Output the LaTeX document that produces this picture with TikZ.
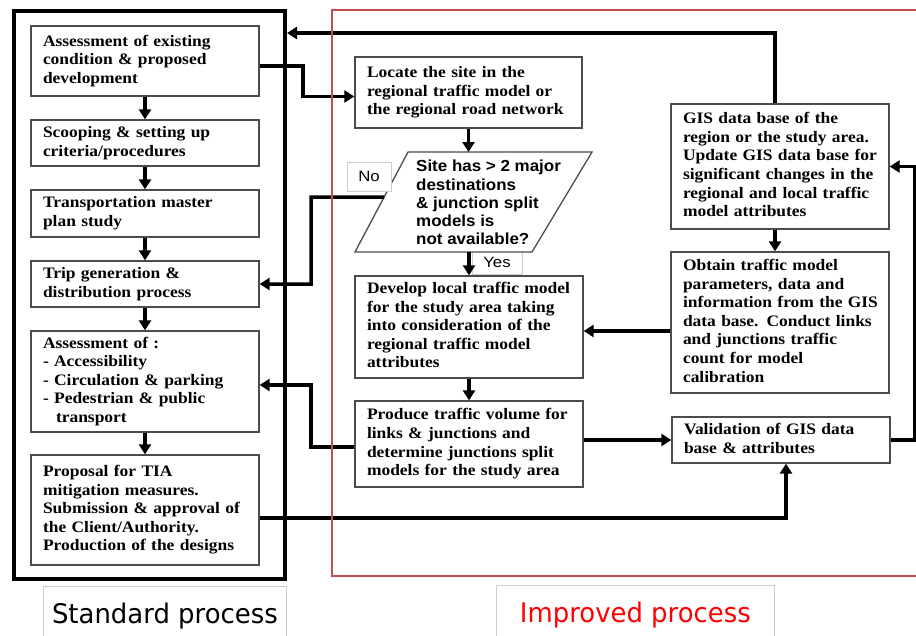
\documentclass[tikz,border=0pt]{standalone}
\usepackage{fontspec}
\setmainfont{Liberation Serif}
\newfontfamily\boxfont{Liberation Serif}[FakeStretch=1.09]
\newfontfamily\qfont{Liberation Sans}[FakeStretch=1.06]
\newfontfamily\yfont{Liberation Sans}[FakeStretch=1.12]
\newfontfamily\lfont{DejaVu Sans}[FakeStretch=0.96]
\usetikzlibrary{arrows.meta,calc}
\newcommand\boxlines[1]{\begin{tabular}{@{}l@{}}#1\end{tabular}}
\definecolor{impframe}{RGB}{192,80,77}
\begin{document}
\begin{tikzpicture}[x=1pt,y=-1pt,
  box/.style={draw=black!70, line width=1.3pt, fill=white, inner xsep=12pt, inner ysep=0pt,
    align=left, font=\boxfont\bfseries\fontsize{16}{18.6}\selectfont},
  conn/.style={line width=3.5pt, -{Triangle[length=10pt,width=12pt]}},
  lbl/.style={draw=black!20, line width=0.8pt, inner sep=0pt, anchor=north west,
    font=\lfont\fontsize{27}{32}\selectfont},
  tag/.style={draw=black!20, line width=0.8pt, inner sep=0pt, fill=white,
    font=\yfont\fontsize{15}{18}\selectfont}]
\useasboundingbox (0,0) rectangle (916,635);

% standard process frame
\node[draw, line width=4pt, minimum width=271.3pt, minimum height=568.3pt, inner sep=0pt] (std) at (149.35,294.85) {};

% left column
\node[box, minimum width=228pt, text width=204pt, minimum height=70pt] (b1) at (145,61)
  {\boxlines{Assessment of existing\\condition \& proposed\\development}};
\node[box, minimum width=228pt, text width=204pt, minimum height=46pt] (b2) at (145,143)
  {\boxlines{Scooping \& setting up\\criteria/procedures}};
\node[box, minimum width=228pt, text width=204pt, minimum height=47pt] (b3) at (145,213.5)
  {\boxlines{Transportation master\\plan study}};
\node[box, minimum width=228pt, text width=204pt, minimum height=46pt] (b4) at (145,284)
  {\boxlines{Trip generation \&\\distribution process}};
\node[box, minimum width=228pt, text width=204pt, minimum height=101pt] (b5) at (145,381.5)
  {\boxlines{Assessment of :\\- Accessibility\\- Circulation \& parking\\- Pedestrian \& public\\\hspace*{13pt}transport}};
\node[box, minimum width=228pt, text width=204pt, minimum height=110pt] (b6) at (145,510)
  {\boxlines{Proposal for TIA\\mitigation measures.\\Submission \& approval of\\the Client/Authority.\\Production of the designs}};

% middle column
\node[box, minimum width=227pt, text width=203pt, minimum height=71pt] (loc) at (468.5,92.5)
  {\boxlines{Locate the site in the\\regional traffic model or\\the regional road network}};

\node[tag, minimum width=50pt, minimum height=25pt] (yes) at (497,262) {Yes};

\coordinate (qa) at (408,152);
\coordinate (qb) at (592,152);
\coordinate (qc) at (532,252);
\coordinate (qd) at (355,252);
\draw[draw=black!70, line width=1.3pt, fill=white] (qa) -- (qb) -- (qc) -- (qd) -- cycle;
\node[anchor=north west, inner sep=0pt, align=left,
  font=\qfont\bfseries\fontsize{16}{18.3}\selectfont] (q) at (416,160)
  {Site has > 2 major\\destinations\\\& junction split\\models is\\not available?};

\node[tag, minimum width=44pt, minimum height=29pt] (no) at (369,176.5) {No};

\node[box, minimum width=228pt, text width=204pt, minimum height=102pt] (dev) at (469,327)
  {\boxlines{Develop local traffic model\\for the study area taking\\into consideration of the\\regional traffic model\\attributes}};
\node[box, minimum width=228pt, text width=204pt, minimum height=86pt] (prod) at (469,444)
  {\boxlines{Produce traffic volume for\\links \& junctions and\\determine junctions split\\models for the study area}};

% right column
\node[box, minimum width=218pt, text width=194pt, minimum height=125pt] (gis) at (780,166.5)
  {\boxlines{GIS data base of the\\region or the study area.\\Update GIS data base for\\significant changes in the\\regional and local traffic\\model attributes}};
\node[box, minimum width=218pt, text width=194pt, minimum height=141pt] (obt) at (780,322.5)
  {\boxlines{Obtain traffic model\\parameters, data and\\information from the GIS\\data base. Conduct links\\and junctions traffic\\count for model\\calibration}};
\node[box, minimum width=218pt, text width=194pt, minimum height=46pt] (val) at (781,440)
  {\boxlines{Validation of GIS data\\base \& attributes}};

% labels
\node[lbl, minimum width=243pt, minimum height=60pt] (stdl) at (43,586) {Standard process};
\node[lbl, text=red, minimum width=278pt, minimum height=60pt] (impl) at (496,585) {Improved process};

% connectors: left chain
\draw[conn] (b1.south) -- (b2.north);
\draw[conn] (b2.south) -- (b3.north);
\draw[conn] (b3.south) -- (b4.north);
\draw[conn] (b4.south) -- (b5.north);
\draw[conn] (b5.south) -- (b6.north);

% connectors: improved process
\coordinate (t33) at (0,33);
\draw[conn] ($(gis.north)+(-5,0)$) |- (std.east |- t33);
\draw[conn] ($(b1.east)+(0,5)$) -- (303,66) |- ($(loc.west)+(0,4)$);
\draw[conn] (loc.south) -- (loc.south |- qa);
\coordinate (ql) at ($(qa)!0.45!(qd)$);
\draw[conn] (ql) -- (311,197) |- (b4.east);
\draw[conn] (dev.north |- qd) -- (dev.north);
\draw[conn] (dev.south) -- (prod.north);
\draw[conn] ($(gis.south)+(-5,0)$) -- ($(obt.north)+(-5,0)$);
\coordinate (d7) at ($(dev.east)+(0,4)$);
\draw[conn] (d7 -| obt.west) -- (d7);
\draw[conn] (val.west -| prod.east) -- (val.west);
\draw[conn] ($(prod.west)+(0,3)$) -- (311,447) |- ($(b5.east)+(0,3.5)$);
\draw[conn] ($(b6.east)+(0,8)$) -| ($(val.south)+(5,0)$);
\draw[conn] (val.east) -- (915,440) |- (gis.east);

% improved process frame
\draw[impframe, line width=2pt] (331.7,10) rectangle (940,576);
\end{tikzpicture}
\end{document}
